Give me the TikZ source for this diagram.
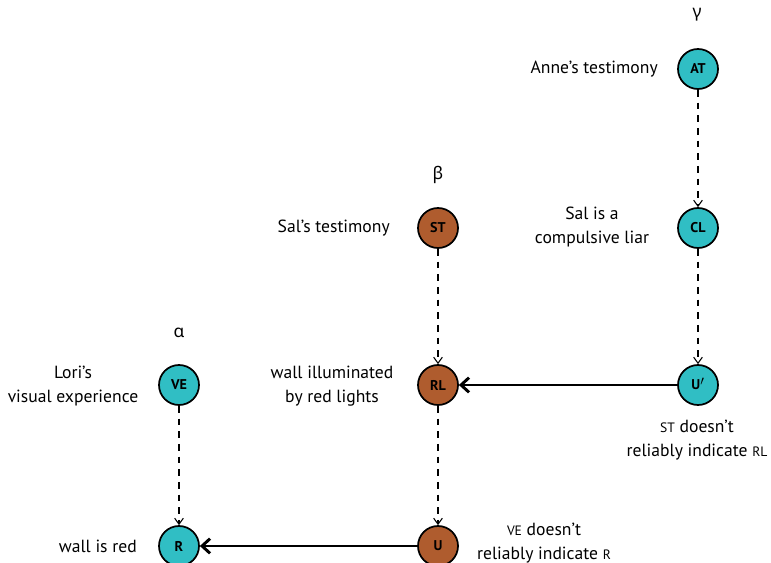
\documentclass[tikz,border=0pt]{standalone}
\usepackage{fontspec}
\setmainfont{PT Sans}
\newfontfamily\greekfont{Noto Sans}
\usetikzlibrary{arrows.meta}
\definecolor{tealc}{RGB}{48,190,196}
\definecolor{brownc}{RGB}{175,92,46}
\newcommand\fsc[1]{{\fontsize{10.2pt}{10pt}\selectfont #1}}
\newcommand\nsc[1]{{\fontsize{10.6pt}{11pt}\selectfont\bfseries #1}}
\begin{document}
\begin{tikzpicture}[x=0.75pt,y=-0.75pt,
  vnode/.style={circle,draw=black,line width=1.3pt,minimum size=30pt,inner sep=0pt},
  tnode/.style={vnode,fill=tealc},
  bnode/.style={vnode,fill=brownc},
  lbl/.style={font=\fontsize{13.2pt}{18pt}\selectfont,align=center,inner sep=0pt},
  grk/.style={font=\greekfont\fontsize{13pt}{13pt}\selectfont,inner sep=0pt},
  darr/.style={-{Straight Barb[length=4.5pt,width=6.5pt]},dash pattern=on 5pt off 4.5pt,line width=0.8pt},
  sarr/.style={-{Straight Barb[length=6pt,width=11pt]},line width=2.2pt}]
\useasboundingbox (0,0) rectangle (771,563);
% nodes
\node[tnode] (AT) at (698,69) {\nsc{AT}};
\node[tnode] (CL) at (698,228) {\nsc{CL}};
\node[tnode] (Up) at (698,385) {\nsc{U}\raisebox{-2pt}{\fontsize{14pt}{14pt}\selectfont$'$}};
\node[bnode] (ST) at (438,228) {\nsc{ST}};
\node[bnode] (RL) at (438,385) {\nsc{RL}};
\node[bnode] (U) at (438,546) {\nsc{U}};
\node[tnode] (VE) at (179,385) {\nsc{VE}};
\node[tnode] (R) at (179,546) {\nsc{R}};
% greek headers
\node[grk] (g) at (697,15) {γ};
\node[grk] (b) at (438,175) {β};
\node[grk] (a) at (179,333) {α};
% labels
\node[lbl,anchor=east] (lAT) at (658,69) {Anne’s testimony};
\node[lbl,anchor=east] (lST) at (390,228) {Sal’s testimony};
\node[lbl] (lCL) at (592,227) {Sal is a\\compulsive liar};
\node[lbl] (lVE) at (73,386) {Lori’s\\visual experience};
\node[lbl] (lRL) at (332,386) {wall illuminated\\by red lights};
\node[lbl] (lUp) at (697,440) {\fsc{ST} doesn’t\\reliably indicate \fsc{RL}};
\node[lbl,anchor=east] (lR) at (137,546) {wall is red};
\node[lbl] (lU) at (544,543) {\fsc{VE} doesn’t\\reliably indicate \fsc{R}};
% connectors
\draw[darr] (AT) -- (CL);
\draw[darr] (CL) -- (Up);
\draw[darr] (ST) -- (RL);
\draw[darr] (RL) -- (U);
\draw[darr] (VE) -- (R);
\draw[sarr] (Up) -- (RL);
\draw[sarr] (U) -- (R);
\end{tikzpicture}
\end{document}
